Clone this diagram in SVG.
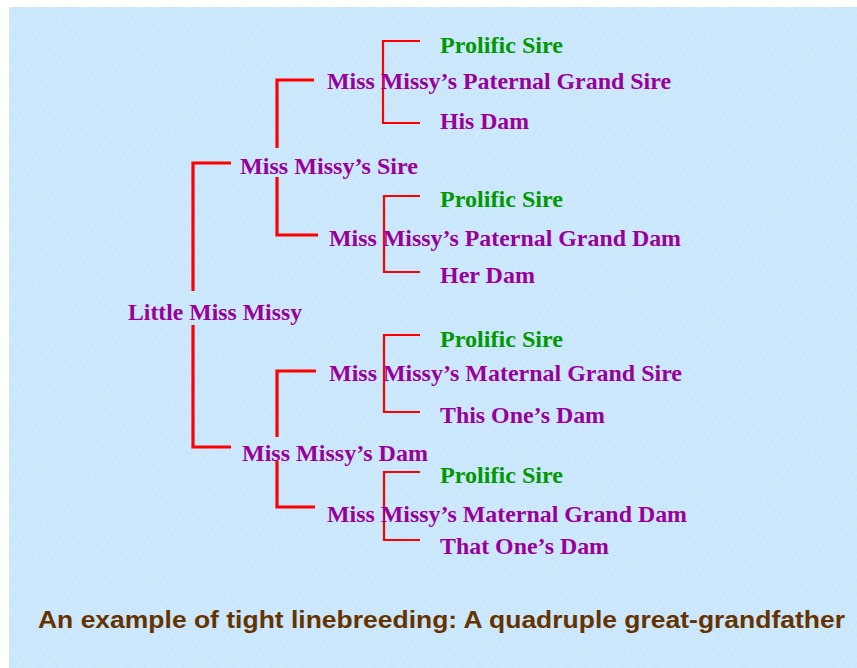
<svg xmlns="http://www.w3.org/2000/svg" width="857" height="668" viewBox="0 0 857 668">
<defs>
<pattern id="hatch" width="12" height="12" patternUnits="userSpaceOnUse" patternTransform="rotate(35)">
<rect width="12" height="12" fill="#cae7fc"/>
<line x1="0" y1="0" x2="0" y2="12" stroke="#d8eefd" stroke-width="1.5"/>
</pattern>
</defs>
<style>
.n{font-family:"Liberation Serif","Times New Roman",serif;font-weight:bold;font-size:24px;fill:#990099}
.g{fill:#009900}
.cap{font-family:"Liberation Sans",Arial,sans-serif;font-weight:bold;font-size:24px;fill:#663300}
.l1{fill:none;stroke:#ff0000;stroke-width:3.2}
.l2{fill:none;stroke:#ff0000;stroke-width:2.2}
</style>
<rect x="0" y="0" width="857" height="668" fill="#ffffff"/>
<rect x="9" y="7" width="848" height="661" fill="url(#hatch)"/>
<g id="connectors">
<path class="l1" d="M231,163 H193 V291 M193,325 V447 H231"/>
<path class="l1" d="M314,80 H277 V148 M277,177 V235 H318"/>
<path class="l1" d="M316,371 H277 V437 M277,461 V507 H315"/>
<path class="l2" d="M420,41 H383 V123 H420"/>
<path class="l2" d="M420,196 H384 V272 H420"/>
<path class="l2" d="M420,335 H384 V412 H420"/>
<path class="l2" d="M420,472 H384 V540 H420"/>
</g>
<g id="n-little"><text class="n" x="128" y="320" textLength="174" lengthAdjust="spacingAndGlyphs">Little Miss Missy</text></g>
<g id="n-sire"><text class="n" x="240" y="174" textLength="178" lengthAdjust="spacingAndGlyphs">Miss Missy’s Sire</text></g>
<g id="n-dam"><text class="n" x="242" y="461" textLength="186" lengthAdjust="spacingAndGlyphs">Miss Missy’s Dam</text></g>
<g id="n-pgs"><text class="n" x="327" y="89" textLength="344" lengthAdjust="spacingAndGlyphs">Miss Missy’s Paternal Grand Sire</text></g>
<g id="n-pgd"><text class="n" x="329" y="246" textLength="352" lengthAdjust="spacingAndGlyphs">Miss Missy’s Paternal Grand Dam</text></g>
<g id="n-mgs"><text class="n" x="329" y="381" textLength="353" lengthAdjust="spacingAndGlyphs">Miss Missy’s Maternal Grand Sire</text></g>
<g id="n-mgd"><text class="n" x="327" y="522" textLength="360" lengthAdjust="spacingAndGlyphs">Miss Missy’s Maternal Grand Dam</text></g>
<g id="n-ps1"><text class="n g" x="440" y="53" textLength="123" lengthAdjust="spacingAndGlyphs">Prolific Sire</text></g>
<g id="n-hisdam"><text class="n" x="440" y="129" textLength="89" lengthAdjust="spacingAndGlyphs">His Dam</text></g>
<g id="n-ps2"><text class="n g" x="440" y="207" textLength="123" lengthAdjust="spacingAndGlyphs">Prolific Sire</text></g>
<g id="n-herdam"><text class="n" x="440" y="283" textLength="95" lengthAdjust="spacingAndGlyphs">Her Dam</text></g>
<g id="n-ps3"><text class="n g" x="440" y="347" textLength="123" lengthAdjust="spacingAndGlyphs">Prolific Sire</text></g>
<g id="n-thisdam"><text class="n" x="440" y="423" textLength="165" lengthAdjust="spacingAndGlyphs">This One’s Dam</text></g>
<g id="n-ps4"><text class="n g" x="440" y="483" textLength="123" lengthAdjust="spacingAndGlyphs">Prolific Sire</text></g>
<g id="n-thatdam"><text class="n" x="440" y="554" textLength="169" lengthAdjust="spacingAndGlyphs">That One’s Dam</text></g>
<text class="cap" x="38" y="628" textLength="807" lengthAdjust="spacingAndGlyphs">An example of tight linebreeding: A quadruple great-grandfather</text>
</svg>
